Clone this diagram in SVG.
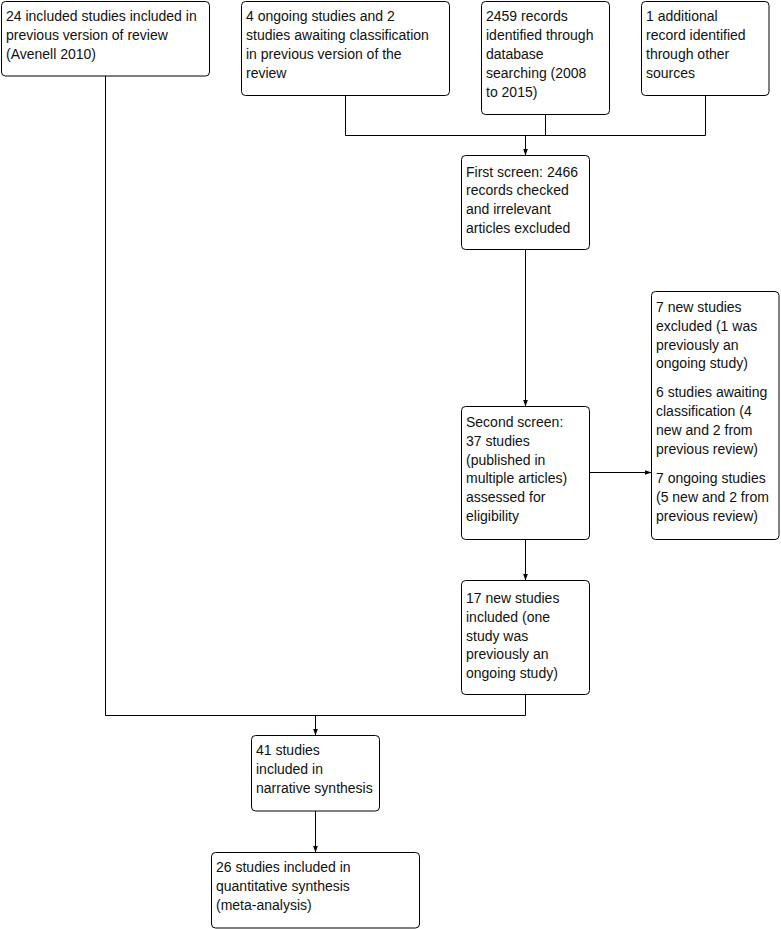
<svg xmlns="http://www.w3.org/2000/svg" width="781" height="929" viewBox="0 0 781 929">
<defs>
<marker id="arr" markerWidth="7" markerHeight="5" refX="7" refY="2.5" orient="auto" markerUnits="userSpaceOnUse">
<path d="M0,0 L7,2.5 L0,5 z" fill="#000"/>
</marker>
<style>
.box{fill:#fff;stroke:#000;stroke-width:1}
.t{font-family:"Liberation Sans",Arial,sans-serif;font-size:14px;fill:#111}
.c{fill:none;stroke:#000;stroke-width:1}
</style>
</defs>
<rect width="781" height="929" fill="#fff"/>
<g id="connectors">
<path class="c" d="M105.5,76 V715.5 H525.5 V694.5"/>
<path class="c" d="M315.5,715.5 V735.5" marker-end="url(#arr)"/>
<path class="c" d="M345.5,95.5 V135.5 H705.5 V95.5 M545.5,114.5 V135.5"/>
<path class="c" d="M525.5,135.5 V155.5" marker-end="url(#arr)"/>
<path class="c" d="M525.5,249.5 V406.5" marker-end="url(#arr)"/>
<path class="c" d="M589.5,472.5 H651.5" marker-end="url(#arr)"/>
<path class="c" d="M525.5,539.5 V580.5" marker-end="url(#arr)"/>
<path class="c" d="M315.5,811 V852.5" marker-end="url(#arr)"/>
</g>
<g id="n1">
<rect class="box" x="1.5" y="1.5" width="208" height="74.5" rx="4"/>
<text class="t" x="6" y="21"><tspan x="6">24 included studies included in</tspan><tspan x="6" dy="18.9">previous version of review</tspan><tspan x="6" dy="18.9">(Avenell 2010)</tspan></text>
</g>
<g id="n2">
<rect class="box" x="241.5" y="1.5" width="208" height="94" rx="4"/>
<text class="t" x="246" y="21"><tspan x="246">4 ongoing studies and 2</tspan><tspan x="246" dy="18.9">studies awaiting classification</tspan><tspan x="246" dy="18.9">in previous version of the</tspan><tspan x="246" dy="18.9">review</tspan></text>
</g>
<g id="n3">
<rect class="box" x="481.5" y="1.5" width="128" height="113" rx="4"/>
<text class="t" x="486" y="21"><tspan x="486">2459 records</tspan><tspan x="486" dy="18.9">identified through</tspan><tspan x="486" dy="18.9">database</tspan><tspan x="486" dy="18.9">searching (2008</tspan><tspan x="486" dy="18.9">to 2015)</tspan></text>
</g>
<g id="n4">
<rect class="box" x="641.5" y="1.5" width="127.5" height="94" rx="4"/>
<text class="t" x="646" y="21"><tspan x="646">1 additional</tspan><tspan x="646" dy="18.9">record identified</tspan><tspan x="646" dy="18.9">through other</tspan><tspan x="646" dy="18.9">sources</tspan></text>
</g>
<g id="n5">
<rect class="box" x="461.5" y="155.5" width="128" height="94" rx="4"/>
<text class="t" x="466" y="176.5"><tspan x="466">First screen: 2466</tspan><tspan x="466" dy="18.9">records checked</tspan><tspan x="466" dy="18.9">and irrelevant</tspan><tspan x="466" dy="18.9">articles excluded</tspan></text>
</g>
<g id="n6">
<rect class="box" x="461.5" y="406.5" width="128" height="133" rx="4"/>
<text class="t" x="466" y="426.7"><tspan x="466">Second screen:</tspan><tspan x="466" dy="18.9">37 studies</tspan><tspan x="466" dy="18.9">(published in</tspan><tspan x="466" dy="18.9">multiple articles)</tspan><tspan x="466" dy="18.9">assessed for</tspan><tspan x="466" dy="18.9">eligibility</tspan></text>
</g>
<g id="n7">
<rect class="box" x="651.5" y="291.5" width="127.5" height="248" rx="4"/>
<text class="t" x="656" y="311.7"><tspan x="656">7 new studies</tspan><tspan x="656" dy="18.9">excluded (1 was</tspan><tspan x="656" dy="18.9">previously an</tspan><tspan x="656" dy="18.9">ongoing study)</tspan></text>
<text class="t" x="656" y="396.8"><tspan x="656">6 studies awaiting</tspan><tspan x="656" dy="18.9">classification (4</tspan><tspan x="656" dy="18.9">new and 2 from</tspan><tspan x="656" dy="18.9">previous review)</tspan></text>
<text class="t" x="656" y="483"><tspan x="656">7 ongoing studies</tspan><tspan x="656" dy="18.9">(5 new and 2 from</tspan><tspan x="656" dy="18.9">previous review)</tspan></text>
</g>
<g id="n8">
<rect class="box" x="461.5" y="580.5" width="128" height="114" rx="4"/>
<text class="t" x="466" y="602.7"><tspan x="466">17 new studies</tspan><tspan x="466" dy="18.9">included (one</tspan><tspan x="466" dy="18.9">study was</tspan><tspan x="466" dy="18.9">previously an</tspan><tspan x="466" dy="18.9">ongoing study)</tspan></text>
</g>
<g id="n9">
<rect class="box" x="251.5" y="735.5" width="128" height="75.5" rx="4"/>
<text class="t" x="256" y="755"><tspan x="256">41 studies</tspan><tspan x="256" dy="18.9">included in</tspan><tspan x="256" dy="18.9">narrative synthesis</tspan></text>
</g>
<g id="n10">
<rect class="box" x="211.5" y="852.5" width="208" height="75.5" rx="4"/>
<text class="t" x="216" y="872.3"><tspan x="216">26 studies included in</tspan><tspan x="216" dy="18.9">quantitative synthesis</tspan><tspan x="216" dy="18.9">(meta-analysis)</tspan></text>
</g>
</svg>
